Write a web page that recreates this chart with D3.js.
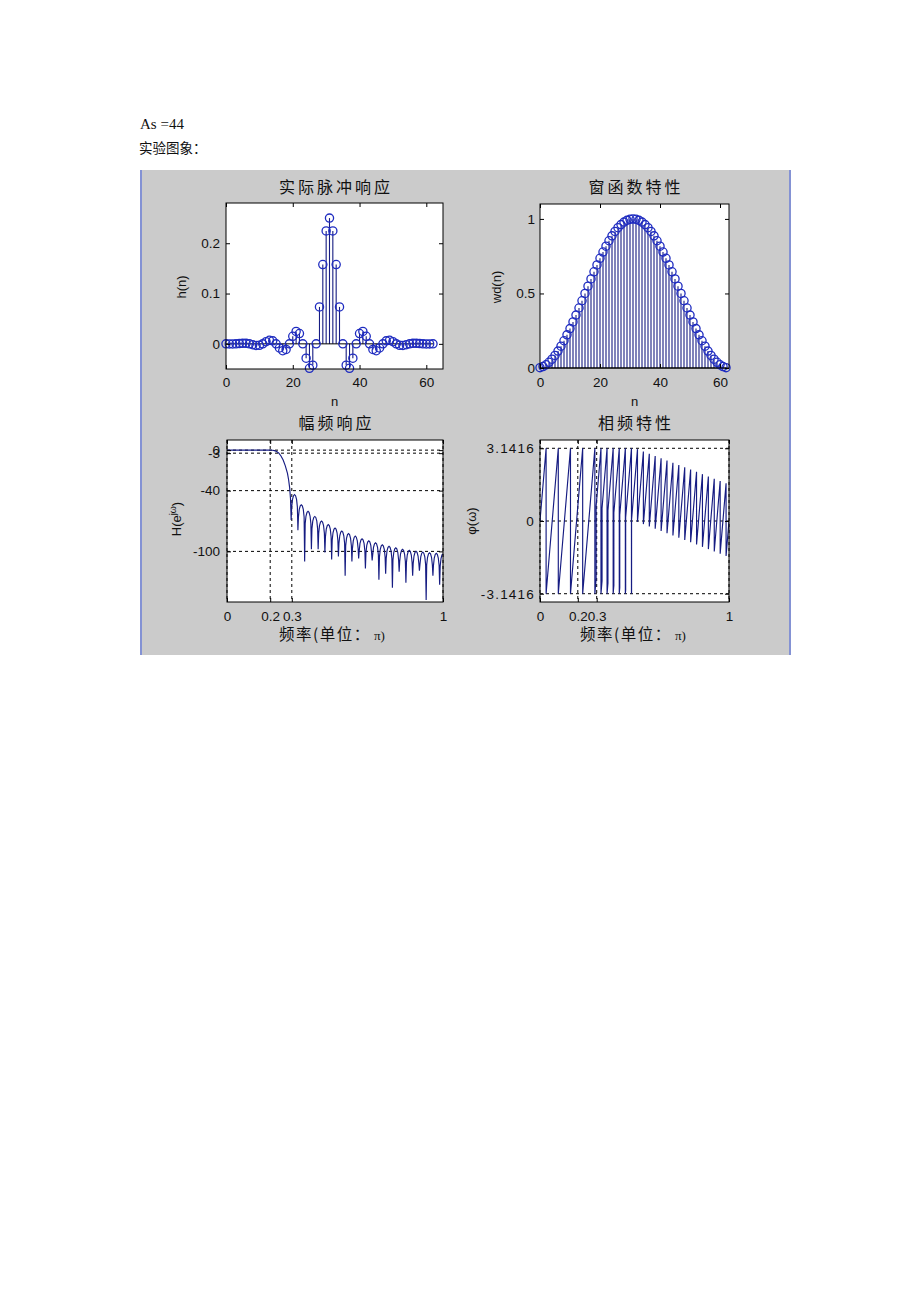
<!DOCTYPE html>
<html lang="zh">
<head>
    <meta charset="UTF-8">
    <title>实验图象</title>
    <script src="https://d3js.org/d3.v7.min.js"></script>
    <style>
        body {
            margin: 0;
            background: #fff;
        }
        svg {
            display: block;
        }
        text {
            font-family: "Liberation Sans", Arial, sans-serif;
            fill: #111;
        }
        .cjk {
            font-family: "Noto Sans CJK SC", sans-serif;
        }
    </style>
</head>
<body>
    <svg id="chart" width="920" height="1302"></svg>

    <script>
        // ---- data ----

        // impulse response h(n), n = 0..62
        const hIndex = d3.range(63);
        const hValues = [
            -0.00002, -0.00010, -0.00017, 0, 0.00049, 0.00103, 0.00102, 0,
            -0.00179, -0.00322, -0.00283, 0, 0.00421, 0.00712, 0.00597, 0,
            -0.00824, -0.01359, -0.01117, 0, 0.01505, 0.02476, 0.02044, 0,
            -0.02850, -0.04858, -0.04236, 0, 0.07342, 0.15762, 0.22454, 0.25,
            0.22454, 0.15762, 0.07342, 0, -0.04236, -0.04858, -0.02850, 0,
            0.02044, 0.02476, 0.01505, 0, -0.01117, -0.01359, -0.00824, 0,
            0.00597, 0.00712, 0.00421, 0, -0.00283, -0.00322, -0.00179, 0,
            0.00102, 0.00103, 0.00049, 0, -0.00017, -0.00010, -0.00002
        ];

        // window wd(n), n = 0..62
        const wdValues = [
            0.0024, 0.0096, 0.0215, 0.0381, 0.0590, 0.0843, 0.1135, 0.1464,
            0.1828, 0.2222, 0.2643, 0.3087, 0.3549, 0.4025, 0.4510, 0.5000,
            0.5490, 0.5975, 0.6451, 0.6913, 0.7357, 0.7778, 0.8172, 0.8536,
            0.8865, 0.9157, 0.9410, 0.9619, 0.9785, 0.9904, 0.9976, 1.0000,
            0.9976, 0.9904, 0.9785, 0.9619, 0.9410, 0.9157, 0.8865, 0.8536,
            0.8172, 0.7778, 0.7357, 0.6913, 0.6451, 0.5975, 0.5490, 0.5000,
            0.4510, 0.4025, 0.3549, 0.3087, 0.2643, 0.2222, 0.1828, 0.1464,
            0.1135, 0.0843, 0.0590, 0.0381, 0.0215, 0.0096, 0.0024
        ];

        // magnitude response (dB): passband + transition
        const magTransF = [0, 0.10, 0.18, 0.20, 0.21, 0.22, 0.23, 0.24, 0.25, 0.26, 0.27, 0.28, 0.285, 0.29, 0.294];
        const magTransDb = [0, 0, -0.02, -0.06, -0.17, -0.5, -1.3, -3.0, -5.8, -9.8, -15.5, -23, -29, -37, -48];

        // stopband: null positions, null depths, and lobe peak after each null
        const nullF = [0.297, 0.3283, 0.3595, 0.3908, 0.4220, 0.4533, 0.4845, 0.5158, 0.5470, 0.5783,
            0.6095, 0.6408, 0.6720, 0.7033, 0.7345, 0.7658, 0.7970, 0.8283, 0.8595, 0.8908,
            0.9220, 0.9533, 0.9845];
        const nullDb = [-69, -79, -110, -98, -98, -101, -108, -105, -124, -110,
            -107, -117, -109, -128, -122, -136, -120, -131, -124, -119,
            -148, -124, -133];
        const peakDb = [-44, -54, -60.5, -65.5, -70, -73.5, -77, -80, -82.5, -85,
            -87.5, -89.5, -91.5, -93.5, -95, -96.5, -98, -99, -100, -100.8,
            -101.5, -102, -102.5];
        // shape of one lobe between two nulls (fraction of lobe, dB below peak)
        const archT = [0.08, 0.2, 0.35, 0.5, 0.65, 0.8, 0.92];
        const archDb = [-12, -4.6, -1, 0, -1, -4.6, -12];

        // phase response vertices (f in units of pi, phase in rad)
        const phaseF = [0, 0.0323, 0.0323, 0.0968, 0.0968, 0.1613, 0.1613, 0.2258, 0.2258, 0.2903, 0.2903, 0.297, 0.297,
            0.3226, 0.3226, 0.3283, 0.3283,
            0.3548, 0.3548, 0.3595, 0.3595,
            0.3871, 0.3871, 0.3908, 0.3908,
            0.4194, 0.4194, 0.4220, 0.4220,
            0.4516, 0.4516, 0.4533, 0.4533,
            0.4839, 0.4839, 0.4845, 0.4845,
            0.5158, 0.5158, 0.5470, 0.5470, 0.5783, 0.5783, 0.6095, 0.6095, 0.6408, 0.6408,
            0.6720, 0.6720, 0.7033, 0.7033, 0.7345, 0.7345, 0.7658, 0.7658, 0.7970, 0.7970,
            0.8283, 0.8283, 0.8595, 0.8595, 0.8908, 0.8908, 0.9220, 0.9220, 0.9533, 0.9533,
            0.9845, 0.9845, 1.0];
        const phaseRad = [0, 3.1416, -3.1416, 3.1416, -3.1416, 3.1416, -3.1416, 3.1416, -3.1416, 3.1416, -3.1416, -2.491, 0.650,
            3.1416, -3.1416, -2.590, 0.552,
            3.1416, -3.1416, -2.688, 0.454,
            3.1416, -3.1416, -2.786, 0.356,
            3.1416, -3.1416, -2.884, 0.258,
            3.1416, -3.1416, -2.982, 0.160,
            3.1416, -3.1416, -3.080, 0.062,
            3.105, -0.037, 3.006, -0.135, 2.908, -0.233, 2.810, -0.331, 2.712, -0.429,
            2.614, -0.528, 2.515, -0.626, 2.417, -0.724, 2.319, -0.822, 2.221, -0.920,
            2.123, -1.018, 2.025, -1.117, 1.926, -1.215, 1.828, -1.313, 1.730, -1.411,
            1.632, -1.509, 0.001];

        // ticks
        const nTicks = [0, 20, 40, 60];
        const hTicksY = [0, 0.1, 0.2];
        const hLabelsY = ["0", "0.1", "0.2"];
        const wdTicksY = [0, 0.5, 1];
        const wdLabelsY = ["0", "0.5", "1"];
        const freqTicks = [0, 0.2, 0.3, 1];
        const freqLabels = ["0", "0.2", "0.3", "1"];
        const magTicksY = [-100, -40, -3, 0];
        const magLabelsY = ["-100", "-40", "-3", "0"];
        const phaseTicksY = [-3.1416, 0, 3.1416];
        const phaseLabelsY = ["-3.1416", "0", "3.1416"];

        const lineColor = "#161c82";
        const markerColor = "#1f2cc0";

        const svg = d3.select("#chart");

        // page text above the figure
        svg.append("text")
            .attr("x", 140).attr("y", 129)
            .style("font-family", "'Liberation Serif', serif")
            .attr("font-size", 15)
            .text("As =44");
        svg.append("text")
            .attr("class", "cjk")
            .attr("x", 139).attr("y", 153)
            .attr("font-size", 13.5)
            .text("实验图象：");

        // figure window
        svg.append("rect")
            .attr("x", 140).attr("y", 170)
            .attr("width", 651).attr("height", 485)
            .attr("fill", "#cbcbcb");
        [141, 790].forEach(xb => {
            svg.append("line")
                .attr("x1", xb).attr("x2", xb)
                .attr("y1", 170).attr("y2", 655)
                .attr("stroke", "#8492d4")
                .attr("stroke-width", 2);
        });

        // Set up one axes box with white background, scales and clip
        function makePanel(p) {
            const x = d3.scaleLinear().domain(p.xDomain).range([p.left, p.right]);
            const y = d3.scaleLinear().domain(p.yDomain).range([p.bottom, p.top]);
            const g = svg.append("g");

            g.append("rect")
                .attr("x", p.left).attr("y", p.top)
                .attr("width", p.right - p.left).attr("height", p.bottom - p.top)
                .attr("fill", "#fff");

            g.append("clipPath").attr("id", "clip-" + p.id)
                .append("rect")
                .attr("x", p.left).attr("y", p.top)
                .attr("width", p.right - p.left).attr("height", p.bottom - p.top);

            // dashed grid
            if (p.grid) {
                g.selectAll(".gx")
                    .data(p.xTicks)
                    .join("line")
                    .attr("x1", d => x(d)).attr("x2", d => x(d))
                    .attr("y1", p.top).attr("y2", p.bottom)
                    .attr("stroke", "#000")
                    .attr("stroke-dasharray", "3,3");
                g.selectAll(".gy")
                    .data(p.yTicks)
                    .join("line")
                    .attr("x1", p.left).attr("x2", p.right)
                    .attr("y1", d => y(d)).attr("y2", d => y(d))
                    .attr("stroke", "#000")
                    .attr("stroke-dasharray", "3,3");
            }

            const plot = g.append("g");
            if (p.clip) plot.attr("clip-path", `url(#clip-${p.id})`);
            return { x, y, g, plot };
        }

        // Box, inward ticks on all sides, tick labels, title and axis labels
        function finishPanel(panel, p) {
            const { x, y, g } = panel;
            const fmt = (labels, ticks) => (d) => labels[ticks.indexOf(d)];

            const styleAxis = sel => {
                sel.select(".domain").remove();
                sel.selectAll("line").attr("stroke", "#000");
                sel.selectAll("text")
                    .attr("font-size", 13.5)
                    .attr("font-family", "'Liberation Sans', Arial, sans-serif")
                    .attr("fill", "#111");
            };

            g.append("g")
                .attr("transform", `translate(0,${p.bottom})`)
                .call(d3.axisBottom(x).tickValues(p.xTicks).tickFormat(fmt(p.xLabels, p.xTicks)).tickSize(-4).tickPadding(p.xPad))
                .call(styleAxis);
            g.append("g")
                .attr("transform", `translate(0,${p.top})`)
                .call(d3.axisTop(x).tickValues(p.xTicks).tickFormat(() => "").tickSize(-4))
                .call(styleAxis);
            const left = g.append("g")
                .attr("transform", `translate(${p.left},0)`)
                .call(d3.axisLeft(y).tickValues(p.yTicks).tickFormat(fmt(p.yLabels, p.yTicks)).tickSize(-4).tickPadding(p.yPad))
                .call(styleAxis);
            if (p.yLetterSpacing) left.selectAll("text").attr("letter-spacing", p.yLetterSpacing);
            g.append("g")
                .attr("transform", `translate(${p.right},0)`)
                .call(d3.axisRight(y).tickValues(p.yTicks).tickFormat(() => "").tickSize(-4))
                .call(styleAxis);

            g.append("rect")
                .attr("x", p.left).attr("y", p.top)
                .attr("width", p.right - p.left).attr("height", p.bottom - p.top)
                .attr("fill", "none")
                .attr("stroke", "#000");

            // title
            g.append("text")
                .attr("class", "cjk")
                .attr("x", (p.left + p.right) / 2 + 1.5)
                .attr("y", p.titleY)
                .attr("text-anchor", "middle")
                .attr("font-size", 16)
                .attr("letter-spacing", 3)
                .text(p.title);
        }

        function drawStems(panel, values) {
            const { x, y, plot } = panel;
            plot.selectAll(".stem")
                .data(values)
                .join("line")
                .attr("class", "stem")
                .attr("x1", (d, i) => x(hIndex[i])).attr("x2", (d, i) => x(hIndex[i]))
                .attr("y1", y(0)).attr("y2", d => y(d))
                .attr("stroke", lineColor)
                .attr("stroke-width", 1.1);
            plot.append("line")
                .attr("x1", x(0)).attr("x2", x(62))
                .attr("y1", y(0)).attr("y2", y(0))
                .attr("stroke", "#000");
            plot.selectAll(".mark")
                .data(values)
                .join("circle")
                .attr("class", "mark")
                .attr("cx", (d, i) => x(hIndex[i]))
                .attr("cy", d => y(d))
                .attr("r", 4.1)
                .attr("fill", "none")
                .attr("stroke", markerColor)
                .attr("stroke-width", 1.3);
        }

        // ---- panel 1: h(n) ----
        const p1 = {
            id: "h", left: 226, right: 443, top: 203, bottom: 369,
            xDomain: [0, 65], yDomain: [-0.05, 0.28],
            xTicks: nTicks, xLabels: nTicks.map(String), xPad: 8,
            yTicks: hTicksY, yLabels: hLabelsY, yPad: 6,
            title: "实际脉冲响应", titleY: 193
        };
        const panel1 = makePanel(p1);
        drawStems(panel1, hValues);
        finishPanel(panel1, p1);

        // ---- panel 2: wd(n) ----
        const p2 = {
            id: "wd", left: 540, right: 729, top: 204, bottom: 368,
            xDomain: [0, 63], yDomain: [0, 1.1],
            xTicks: nTicks, xLabels: nTicks.map(String), xPad: 9,
            yTicks: wdTicksY, yLabels: wdLabelsY, yPad: 5,
            title: "窗函数特性", titleY: 193
        };
        const panel2 = makePanel(p2);
        drawStems(panel2, wdValues);
        finishPanel(panel2, p2);

        // ---- panel 3: magnitude ----
        const p3 = {
            id: "mag", left: 227, right: 443, top: 440, bottom: 602, clip: true, grid: true,
            xDomain: [0, 1], yDomain: [-150, 10],
            xTicks: freqTicks, xLabels: freqLabels, xPad: 9,
            yTicks: magTicksY, yLabels: magLabelsY, yPad: 7,
            title: "幅频响应", titleY: 429
        };
        const panel3 = makePanel(p3);

        const magPts = magTransF.map((f, i) => [f, magTransDb[i]]);
        nullF.forEach((f0, k) => {
            magPts.push([f0, nullDb[k]]);
            const f1 = k + 1 < nullF.length ? nullF[k + 1] : f0 + (nullF[k] - nullF[k - 1]);
            archT.forEach((t, j) => {
                const f = f0 + t * (f1 - f0);
                if (f <= 1.0001) magPts.push([f, peakDb[k] + archDb[j]]);
            });
        });
        panel3.plot.append("path")
            .datum(magPts)
            .attr("fill", "none")
            .attr("stroke", lineColor)
            .attr("stroke-width", 1.15)
            .attr("d", d3.line().x(d => panel3.x(d[0])).y(d => panel3.y(d[1])));
        finishPanel(panel3, p3);

        // ---- panel 4: phase ----
        const p4 = {
            id: "pha", left: 540, right: 729, top: 440, bottom: 602, clip: true, grid: true,
            xDomain: [0, 1], yDomain: [-3.5, 3.5],
            xTicks: freqTicks, xLabels: freqLabels, xPad: 9,
            yTicks: phaseTicksY, yLabels: phaseLabelsY, yPad: 5, yLetterSpacing: 1.2,
            title: "相频特性", titleY: 429
        };
        const panel4 = makePanel(p4);
        panel4.plot.append("path")
            .datum(phaseF.map((f, i) => [f, phaseRad[i]]))
            .attr("fill", "none")
            .attr("stroke", lineColor)
            .attr("stroke-width", 1.15)
            .attr("d", d3.line().x(d => panel4.x(d[0])).y(d => panel4.y(d[1])));
        finishPanel(panel4, p4);

        // ---- axis labels ----
        function yLabel(x, y) {
            return svg.append("text")
                .attr("transform", `translate(${x},${y}) rotate(-90)`)
                .attr("text-anchor", "middle")
                .attr("font-size", 13);
        }
        yLabel(186, 287).text("h(n)");
        yLabel(501, 287).text("wd(n)");
        const hLab = yLabel(181, 519);
        hLab.append("tspan").text("H(e");
        hLab.append("tspan").attr("dy", -5).attr("font-size", 9).text("jω");
        hLab.append("tspan").attr("dy", 5).text(")");
        yLabel(476, 521).text("φ(ω)");

        [334.5, 634.5].forEach(cx => {
            svg.append("text")
                .attr("x", cx).attr("y", 406)
                .attr("text-anchor", "middle")
                .attr("font-size", 13)
                .text("n");
        });

        [332, 633].forEach(cx => {
            const t = svg.append("text")
                .attr("x", cx).attr("y", 640)
                .attr("text-anchor", "middle")
                .attr("font-size", 15.5);
            t.append("tspan").attr("class", "cjk").attr("letter-spacing", 1.5).text("频率(单位：");
            t.append("tspan")
                .style("font-family", "'Liberation Serif', serif")
                .attr("font-size", 13)
                .text(" π)");
        });
    </script>
</body>
</html>
